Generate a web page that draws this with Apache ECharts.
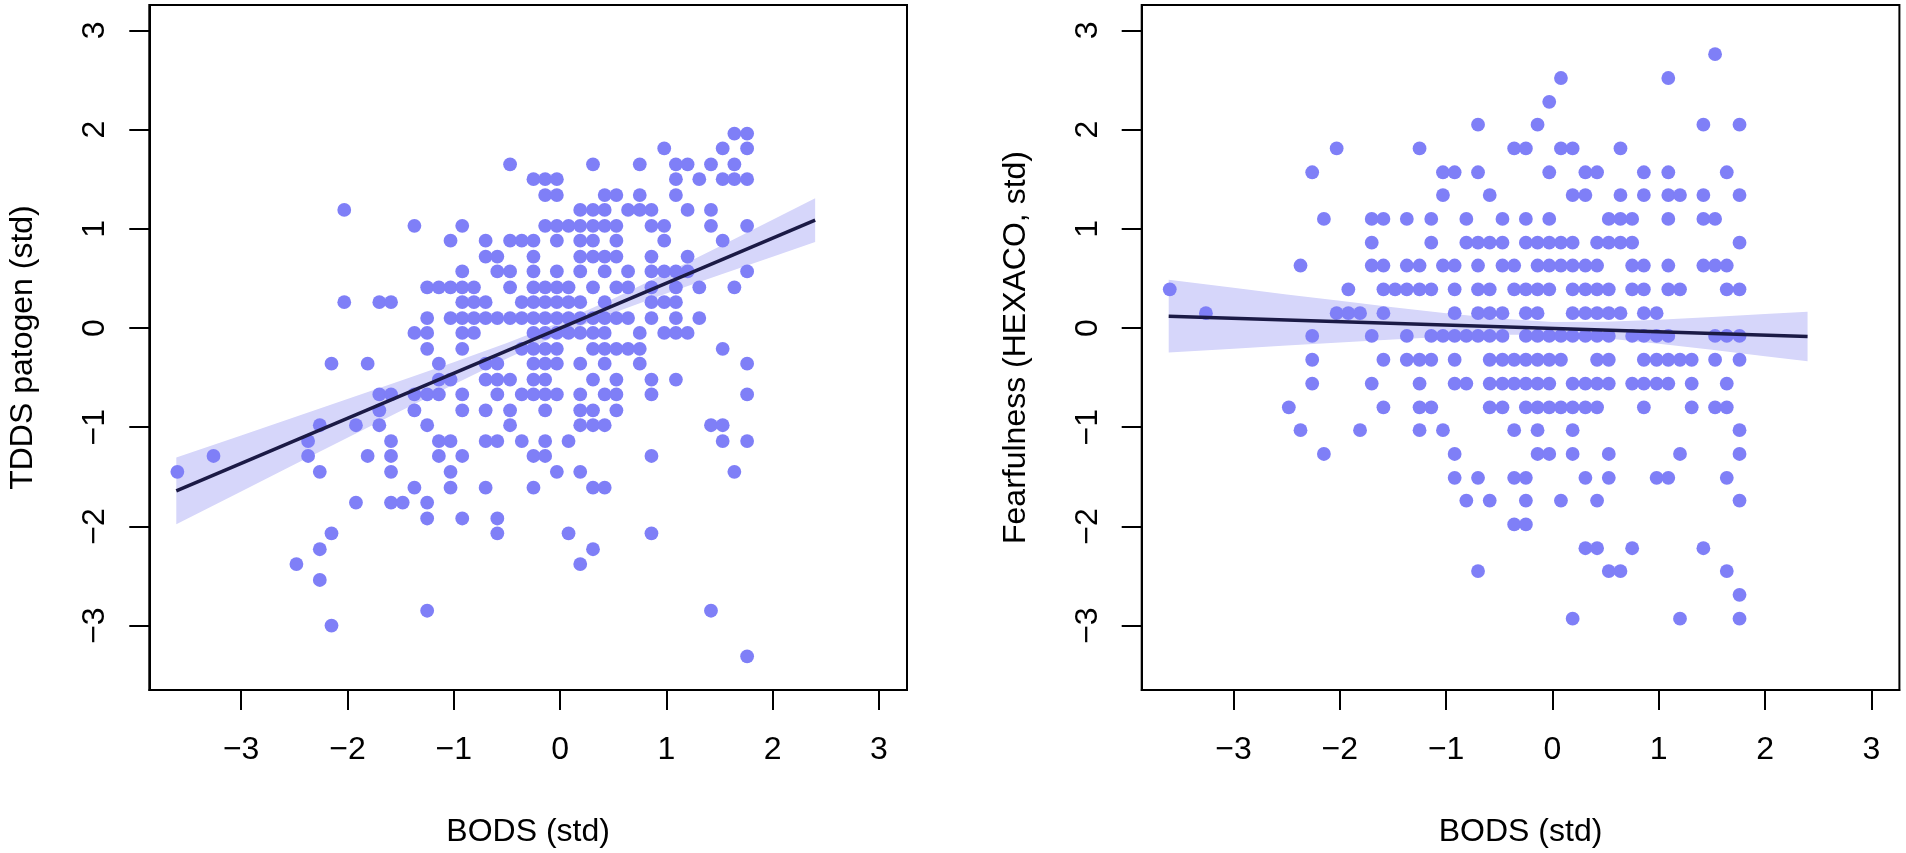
<!DOCTYPE html>
<html><head><meta charset="utf-8">
<script src="https://cdn.jsdelivr.net/npm/echarts@6/dist/echarts.min.js"></script>
<style>html,body{margin:0;padding:0;background:#fff}#c{width:1906px;height:853px}</style>
</head><body><div id="c"></div>
<script>
// Observed BODS (std) score levels, index = level + 32
const bodsLevels = [-3.60,-3.48,-3.37,-3.26,-3.15,-3.04,-2.93,-2.82,-2.70,-2.59,-2.48,-2.37,-2.26,-2.15,-2.03,-1.92,-1.81,-1.70,-1.59,-1.48,-1.37,-1.25,-1.14,-1.03,-0.92,-0.81,-0.70,-0.59,-0.47,-0.36,-0.25,-0.14,-0.03,0.08,0.19,0.31,0.42,0.53,0.64,0.75,0.86,0.98,1.09,1.20,1.31,1.42,1.53,1.64,1.76];
const LEVEL0 = 32;

// Left panel: TDDS patogen (std); each row = [y value, BODS levels present]
const tddsRows = [
  [1.96,[15,16]],
  [1.81,[9,14,16]],
  [1.65,[-4,3,7,10,11,13,15]],
  [1.50,[-2,-1,0,10,12,14,15,16]],
  [1.34,[-1,0,4,5,7,10]],
  [1.19,[-18,2,3,4,6,7,8,11,13]],
  [1.03,[-12,-8,-1,0,1,2,3,4,5,8,9,13,16]],
  [0.88,[-9,-6,-4,-3,-2,0,2,3,5,9,14]],
  [0.72,[-6,-5,-2,2,3,4,5,8,11]],
  [0.57,[-8,-5,-4,-2,0,2,4,6,8,9,10,11,16]],
  [0.41,[-11,-10,-9,-8,-7,-4,-2,-1,0,1,3,5,6,8,10,12,15]],
  [0.26,[-18,-15,-14,-8,-7,-6,-3,-2,-1,0,1,2,4,8,9,10]],
  [0.10,[-11,-9,-8,-7,-6,-5,-4,-3,-2,-1,0,1,2,3,4,5,6,8,10,12]],
  [-0.05,[-12,-11,-8,-7,-2,-1,0,1,2,3,4,7,9,10,11]],
  [-0.21,[-11,-8,-3,-2,-1,0,3,4,5,6,7,14]],
  [-0.36,[-19,-16,-10,-6,-5,-2,-1,0,2,4,7,16]],
  [-0.52,[-10,-9,-6,-5,-4,-2,-1,3,5,8,10]],
  [-0.67,[-15,-14,-12,-11,-10,-8,-5,-3,-2,-1,0,2,4,5,8,16]],
  [-0.83,[-15,-12,-8,-6,-4,-1,2,3,5]],
  [-0.98,[-20,-17,-15,-11,-4,2,3,4,13,14]],
  [-1.14,[-21,-14,-10,-9,-6,-5,-3,-1,1,14,16]],
  [-1.29,[-29,-21,-16,-14,-10,-8,-2,-1,8]],
  [-1.45,[-32,-20,-14,-9,0,2,15]],
  [-1.61,[-12,-9,-6,-2,3,4]],
  [-1.76,[-17,-14,-13,-11]],
  [-1.92,[-11,-8,-5]],
  [-2.07,[-19,-5,1,8]],
  [-2.23,[-20,3]],
  [-2.38,[-22,2]],
  [-2.54,[-20]],
  [-2.85,[-11,13]],
  [-3.00,[-19]],
  [-3.31,[16]]
];

// Right panel: Fearfulness (HEXACO, std)
const fearRows = [
  [2.76,[14]],
  [2.52,[1,10]],
  [2.28,[0]],
  [2.05,[-6,-1,13,16]],
  [1.81,[-18,-11,-3,-2,1,2,6]],
  [1.57,[-20,-9,-8,-6,0,3,4,8,10,15]],
  [1.34,[-9,-5,2,3,6,8,10,11,13,16]],
  [1.10,[-19,-15,-14,-12,-10,-7,-4,-2,0,5,6,7,10,13,14]],
  [0.86,[-15,-10,-7,-6,-5,-4,-2,-1,0,1,2,4,5,6,7,16]],
  [0.63,[-21,-15,-14,-12,-11,-9,-8,-6,-4,-3,-1,0,1,2,3,4,7,8,10,13,14,15]],
  [0.39,[-32,-17,-14,-13,-12,-11,-10,-8,-6,-5,-3,-2,-1,0,2,3,4,5,7,8,10,11,15,16]],
  [0.15,[-29,-18,-17,-16,-14,-8,-6,-5,-4,-2,-1,2,3,4,5,6,8,9]],
  [-0.08,[-20,-15,-12,-10,-9,-8,-7,-6,-5,-4,-2,-1,0,1,2,3,4,5,7,8,9,10,14,15,16]],
  [-0.32,[-20,-14,-12,-11,-10,-8,-5,-4,-3,-2,-1,0,1,4,5,8,9,10,11,12,14,16]],
  [-0.56,[-20,-15,-11,-8,-7,-5,-4,-3,-2,-1,0,2,3,4,5,7,8,9,10,12,15]],
  [-0.80,[-22,-14,-11,-10,-5,-4,-2,-1,0,1,2,3,4,8,12,14,15]],
  [-1.03,[-21,-16,-11,-9,-3,-1,2,16]],
  [-1.27,[-19,-8,-1,0,2,5,11,16]],
  [-1.51,[-8,-6,-3,-2,3,5,9,10,15]],
  [-1.74,[-7,-5,-2,1,4,16]],
  [-1.98,[-3,-2]],
  [-2.22,[3,4,7,13]],
  [-2.45,[-6,5,6,15]],
  [-2.69,[16]],
  [-2.93,[2,11,16]]
];

// Fitted lines
const tddsFitX = [-3.61, 2.40];
const tddsFitY = [-1.642, 1.087];
const fearFitX = [-3.61, 2.40];
const fearFitY = [0.119, -0.085];

// Confidence bands
const bandX = [-3.61,-3,-2.5,-2,-1.5,-1,-0.5,0,0.5,1,1.5,2,2.4];
const tddsBandLo = [-1.978,-1.647,-1.376,-1.106,-0.837,-0.569,-0.308,-0.063,0.152,0.347,0.534,0.719,0.867];
const tddsBandHi = [-1.306,-1.083,-0.900,-0.716,-0.531,-0.345,-0.152,0.057,0.296,0.555,0.822,1.091,1.307];
const fearBandLo = [-0.248,-0.209,-0.177,-0.146,-0.116,-0.089,-0.069,-0.069,-0.104,-0.158,-0.220,-0.284,-0.335];
const fearBandHi = [0.486,0.405,0.339,0.274,0.210,0.149,0.095,0.061,0.062,0.082,0.110,0.140,0.165];

const xTicks = [-3,-2,-1,0,1,2,3];
const yTicks = [-3,-2,-1,0,1,2,3];
const xTitle = 'BODS (std)';
const yTitles = ['TDDS patogen (std)', 'Fearfulness (HEXACO, std)'];

const FONT = 'Liberation Sans, Arial, Helvetica, sans-serif';
const PT = '#7F7FF7', BAND = '#D6D6FA', LINE = '#1B1A45';
const fmt = v => (v < 0 ? '\u2212' + Math.abs(v) : String(v));

function rowsToPoints(rows) {
  const pts = [];
  rows.forEach(r => r[1].forEach(k => pts.push([bodsLevels[k + LEVEL0], r[0]])));
  return pts;
}

function bandSeries(g, lo, hi) {
  return {
    type: 'custom', xAxisIndex: g, yAxisIndex: g, silent: true, z: 1, clip: true,
    data: bandX.map((x, i) => [x, lo[i], hi[i]]),
    encode: { x: 0, y: [1, 2] },
    renderItem: (params, api) => {
      if (params.dataIndex !== 0) return null;
      const pts = [];
      for (let i = 0; i < bandX.length; i++) pts.push(api.coord([bandX[i], lo[i]]));
      for (let i = bandX.length - 1; i >= 0; i--) pts.push(api.coord([bandX[i], hi[i]]));
      return { type: 'polygon', shape: { points: pts }, style: { fill: BAND } };
    }
  };
}

const gridL = [149.3, 1141.7];
const grids = gridL.map(l => ({ left: l, top: 5, width: 757.7, height: 691.7, show: true, borderColor: '#000', borderWidth: 2, containLabel: false }));

const xAxes = [0, 1].map(g => ({
  gridIndex: g, type: 'value', min: -3.864, max: 3.264,
  name: xTitle, nameLocation: 'middle', nameGap: 126,
  nameTextStyle: { fontSize: 32, color: '#000', fontFamily: FONT },
  axisLine: { show: true, onZero: false, lineStyle: { color: '#000', width: 2 } },
  axisTick: { show: true, inside: false, length: 20, customValues: xTicks, lineStyle: { color: '#000', width: 2 } },
  axisLabel: { show: true, customValues: xTicks, margin: 44, fontSize: 32, color: '#000', fontFamily: FONT, formatter: fmt },
  splitLine: { show: false }
}));

const yAxes = [0, 1].map(g => ({
  gridIndex: g, type: 'value', min: -3.649, max: 3.256,
  name: yTitles[g], nameLocation: 'middle', nameGap: 110, nameRotate: 90,
  nameTextStyle: { fontSize: 32, color: '#000', fontFamily: FONT },
  axisLine: { show: true, onZero: false, lineStyle: { color: '#000', width: 2 } },
  axisTick: { show: true, inside: false, length: 20, customValues: yTicks, lineStyle: { color: '#000', width: 2 } },
  axisLabel: { show: true, customValues: yTicks, rotate: 90, margin: 38, fontSize: 32, color: '#000', fontFamily: FONT, formatter: fmt },
  splitLine: { show: false }
}));

const series = [
  bandSeries(0, tddsBandLo, tddsBandHi),
  bandSeries(1, fearBandLo, fearBandHi),
  { type: 'scatter', xAxisIndex: 0, yAxisIndex: 0, z: 2, symbol: 'circle', symbolSize: 13.8,
    itemStyle: { color: PT, opacity: 1 }, data: rowsToPoints(tddsRows) },
  { type: 'scatter', xAxisIndex: 1, yAxisIndex: 1, z: 2, symbol: 'circle', symbolSize: 13.8,
    itemStyle: { color: PT, opacity: 1 }, data: rowsToPoints(fearRows) },
  { type: 'line', xAxisIndex: 0, yAxisIndex: 0, z: 3, symbol: 'none',
    lineStyle: { color: LINE, width: 3.5 }, data: tddsFitX.map((x, i) => [x, tddsFitY[i]]) },
  { type: 'line', xAxisIndex: 1, yAxisIndex: 1, z: 3, symbol: 'none',
    lineStyle: { color: LINE, width: 3.5 }, data: fearFitX.map((x, i) => [x, fearFitY[i]]) }
];

const chart = echarts.init(document.getElementById('c'), null, { renderer: 'canvas' });
chart.setOption({
  animation: false,
  backgroundColor: '#fff',
  textStyle: { fontFamily: FONT },
  grid: grids, xAxis: xAxes, yAxis: yAxes, series: series
});
</script>
</body></html>
